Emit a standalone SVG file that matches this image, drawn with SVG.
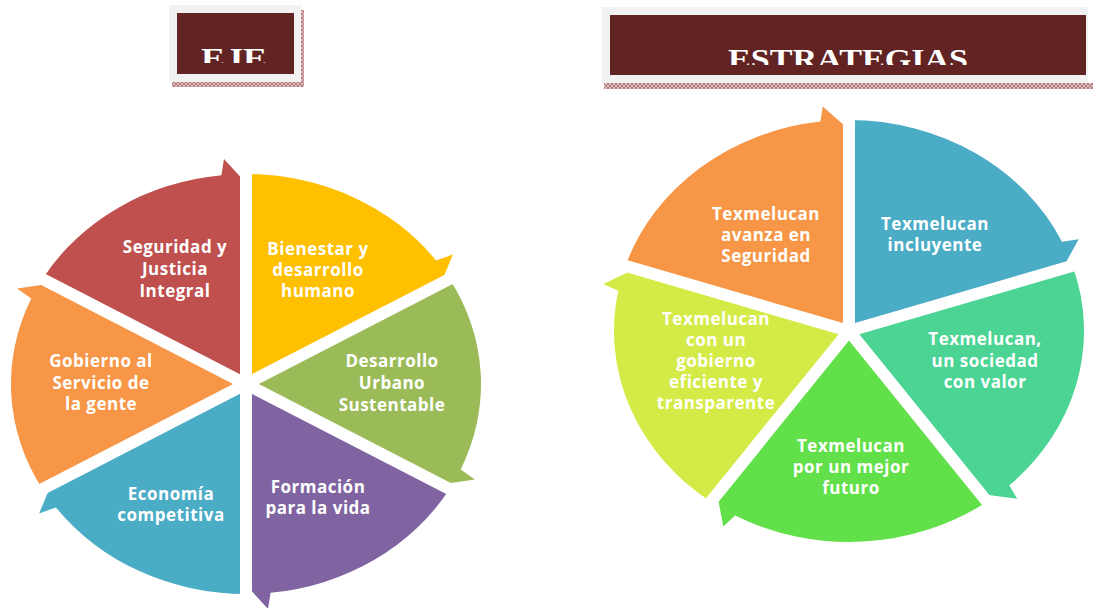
<svg xmlns="http://www.w3.org/2000/svg" width="1093" height="608" viewBox="0 0 1093 608">
<defs>
<style>
.lbl{font-family:"Open Sans","Liberation Sans",sans-serif;font-weight:700;font-size:17px;letter-spacing:0.5px;fill:#ffffff;text-anchor:middle}
.ttl{font-family:"Liberation Serif","DejaVu Serif",serif;font-weight:700;font-size:30px;fill:#ffffff;text-anchor:middle}
.gap{stroke:#ffffff;stroke-width:12;stroke-linecap:butt;fill:none}
.outer{fill:#f2f2f2}
.inner{fill:#622423}
</style>
<pattern id="hatch" width="4" height="4" patternUnits="userSpaceOnUse">
<rect width="4" height="4" fill="#dcc0c0"/>
<path d="M0 0L4 4M4 0L0 4" stroke="#a86a6a" stroke-width="0.8"/>
</pattern>
<clipPath id="clipEje"><rect x="177" y="13" width="117" height="50"/></clipPath>
<clipPath id="clipEst"><rect x="610" y="15" width="476" height="50"/></clipPath>
</defs>

<g id="header-eje">
<rect x="172" y="82" width="132" height="5" fill="url(#hatch)"/>
<rect x="301" y="10" width="3" height="77" fill="url(#hatch)"/>
<rect class="outer" x="169" y="5" width="132" height="77"/>
<rect class="inner" x="177" y="13" width="117" height="61"/>
<text class="ttl" x="234" y="68" textLength="66" lengthAdjust="spacingAndGlyphs" clip-path="url(#clipEje)">EJE</text>
</g>

<g id="header-estrategias">
<rect x="604" y="83" width="489" height="6" fill="url(#hatch)"/>
<rect class="outer" x="602" y="7" width="486" height="76"/>
<rect class="inner" x="610" y="15" width="476" height="60"/>
<text class="ttl" x="848" y="69" textLength="240" lengthAdjust="spacingAndGlyphs" clip-path="url(#clipEst)">ESTRATEGIAS</text>
</g>

<!-- Left cycle: EJE -->
<g id="eje-seguridad">
<path d="M246 384L42.5 279A235 210 0 0 1 221.4 175.2L224 159.1L246 183Z" fill="#c0504d"/>
<text class="lbl" x="175" y="253">Seguridad y</text>
<text class="lbl" x="175" y="275">Justicia</text>
<text class="lbl" x="175" y="297">Integral</text>
</g>
<g id="eje-bienestar">
<path d="M246 384L246 174A235 210 0 0 1 436.1 260.6L452.9 254.5L440.8 283.5Z" fill="#ffc000"/>
<text class="lbl" x="318" y="255">Bienestar y</text>
<text class="lbl" x="318" y="276">desarrollo</text>
<text class="lbl" x="318" y="297">humano</text>
</g>
<g id="eje-urbano">
<path d="M246 384L449.5 279A235 210 0 0 1 460.7 469.4L474.9 479.4L440.8 484.5Z" fill="#9bbb59"/>
<text class="lbl" x="392" y="367">Desarrollo</text>
<text class="lbl" x="392" y="389">Urbano</text>
<text class="lbl" x="392" y="411">Sustentable</text>
</g>
<g id="eje-formacion">
<path d="M246 384L449.5 489A235 210 0 0 1 270.6 592.8L268 608.9L246 585Z" fill="#8064a2"/>
<text class="lbl" x="318" y="493">Formación</text>
<text class="lbl" x="318" y="514">para la vida</text>
</g>
<g id="eje-economia">
<path d="M246 384L246 594A235 210 0 0 1 55.9 507.4L39.1 513.5L51.2 484.5Z" fill="#4bacc6"/>
<text class="lbl" x="171" y="500">Economía</text>
<text class="lbl" x="171" y="521">competitiva</text>
</g>
<g id="eje-gobierno">
<path d="M246 384L42.5 489A235 210 0 0 1 31.3 298.6L17.1 288.6L51.2 283.5Z" fill="#f79646"/>
<text class="lbl" x="101" y="367">Gobierno al</text>
<text class="lbl" x="101" y="389">Servicio de</text>
<text class="lbl" x="101" y="410">la gente</text>
</g>

<!-- Right cycle: ESTRATEGIAS -->
<g id="est-incluyente">
<path d="M849 331L849 120A235 211 0 0 1 1062 241.8L1078.7 239.2L1062.4 268.7Z" fill="#4bacc6"/>
<text class="lbl" x="935" y="230">Texmelucan</text>
<text class="lbl" x="935" y="251">incluyente</text>
</g>
<g id="est-sociedad">
<path d="M849 331L1072.5 265.8A235 211 0 0 1 1009.3 485.3L1017.2 498.8L980.9 494Z" fill="#4bd494"/>
<text class="lbl" x="985" y="345">Texmelucan,</text>
<text class="lbl" x="985" y="367">un sociedad</text>
<text class="lbl" x="985" y="388">con valor</text>
</g>
<g id="est-futuro">
<path d="M849 331L987.1 501.7A235 211 0 0 1 735.1 515.5L723.3 526.5L717.1 494Z" fill="#62e04a"/>
<text class="lbl" x="851" y="452">Texmelucan</text>
<text class="lbl" x="851" y="473">por un mejor</text>
<text class="lbl" x="851" y="494">futuro</text>
</g>
<g id="est-gobierno">
<path d="M849 331L710.9 501.7A235 211 0 0 1 618.3 290.7L603.1 284.1L635.6 268.7Z" fill="#d4eb47"/>
<text class="lbl" x="716" y="325">Texmelucan</text>
<text class="lbl" x="716" y="346">con un</text>
<text class="lbl" x="716" y="367">gobierno</text>
<text class="lbl" x="716" y="388">eficiente y</text>
<text class="lbl" x="716" y="409">transparente</text>
</g>
<g id="est-seguridad">
<path d="M849 331L625.5 265.8A235 211 0 0 1 820.4 121.6L822.7 106.5L849 129.5Z" fill="#f79646"/>
<text class="lbl" x="766" y="220">Texmelucan</text>
<text class="lbl" x="766" y="241">avanza en</text>
<text class="lbl" x="766" y="262">Seguridad</text>
</g>

<g id="connectors">
<path class="gap" d="M246 384L246 153M246 384L469.9 268.5M246 384L469.9 499.5M246 384L246 615M246 384L22.1 499.5M246 384L22.1 268.5"/>
<path class="gap" d="M849 331L849 98.9M849 331L1094.9 259.3M849 331L1000.9 518.8M849 331L697.1 518.8M849 331L603.1 259.3"/>
</g>
</svg>
